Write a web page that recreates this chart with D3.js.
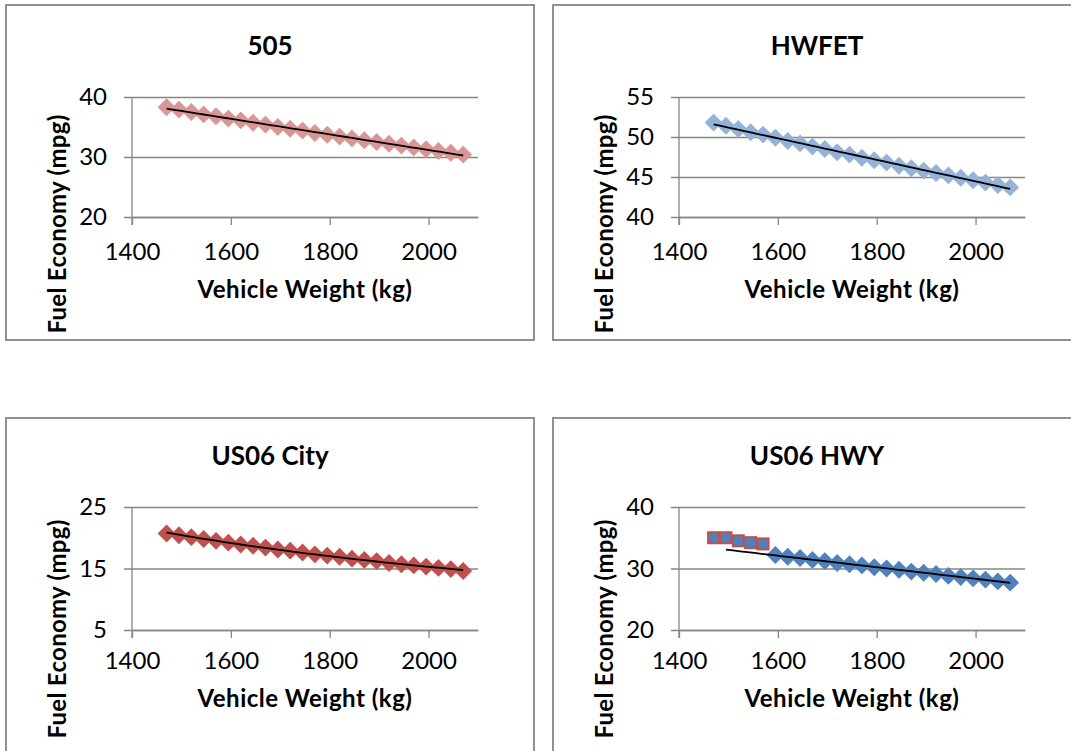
<!DOCTYPE html>
<html>
<head>
<meta charset="utf-8">
<script src="https://cdn.jsdelivr.net/npm/d3@7"></script>
<style>
  body { margin: 0; background: #fff; }
  svg { display: block; font-family: Lato, "Open Sans", sans-serif; }
</style>
</head>
<body>
<div id="vis"></div>
<script>
const FRAME_WIDTH = 1071;
const FRAME_HEIGHT = 751;

// vehicle weights (kg) used by every panel
const WEIGHTS = [1470, 1495, 1520, 1545, 1570, 1595, 1620, 1645, 1670, 1695,
                 1720, 1745, 1770, 1795, 1820, 1845, 1870, 1895, 1920, 1945,
                 1970, 1995, 2020, 2045, 2070];

// fuel economy (mpg)
const FE_505 = [38.3, 37.9, 37.5, 37.1, 36.8, 36.4, 36.1, 35.7, 35.4, 35.0,
                34.7, 34.4, 34.0, 33.7, 33.4, 33.1, 32.8, 32.5, 32.2, 31.9,
                31.6, 31.3, 31.0, 30.7, 30.4];
const FE_HWFET = [51.8, 51.4, 51.0, 50.6, 50.3, 49.9, 49.5, 49.2, 48.8, 48.5,
                  48.1, 47.8, 47.4, 47.1, 46.8, 46.4, 46.1, 45.8, 45.5, 45.2,
                  44.9, 44.6, 44.3, 44.0, 43.7];
const FE_US06_CITY = [20.7, 20.4, 20.1, 19.8, 19.5, 19.2, 18.9, 18.7, 18.4, 18.1,
                      17.9, 17.6, 17.3, 17.1, 16.9, 16.6, 16.4, 16.2, 15.9, 15.7,
                      15.5, 15.3, 15.1, 14.9, 14.6];
// US06 HWY: first five points are a separate (square) series
const FE_US06_HWY_LIGHT = [35.0, 35.0, 34.5, 34.2, 34.0];
const FE_US06_HWY = [32.2, 31.9, 31.7, 31.4, 31.2, 30.9, 30.7, 30.5, 30.2, 30.0,
                     29.8, 29.5, 29.3, 29.1, 28.8, 28.6, 28.4, 28.2, 27.9, 27.7];

const X_TICKS = [1400, 1600, 1800, 2000];
const X_DOMAIN = [1400, 2100];

const PANELS = [
  {title: "505", col: 0, row: 0, yDomain: [20, 40], yTicks: [20, 30, 40],
   series: [{x: WEIGHTS, y: FE_505, shape: "diamond", fill: "#D99694"}],
   trend: "linear"},
  {title: "HWFET", col: 1, row: 0, yDomain: [40, 55], yTicks: [40, 45, 50, 55],
   series: [{x: WEIGHTS, y: FE_HWFET, shape: "diamond", fill: "#95B3D7"}],
   trend: "linear"},
  {title: "US06 City", col: 0, row: 1, yDomain: [5, 25], yTicks: [5, 15, 25],
   series: [{x: WEIGHTS, y: FE_US06_CITY, shape: "diamond", fill: "#C0504D"}],
   trend: "power"},
  {title: "US06 HWY", col: 1, row: 1, yDomain: [20, 40], yTicks: [20, 30, 40],
   series: [{x: WEIGHTS.slice(0, 5), y: FE_US06_HWY_LIGHT, shape: "square", fill: "#4F81BD", stroke: "#C0504D"},
            {x: WEIGHTS.slice(5), y: FE_US06_HWY, shape: "diamond", fill: "#4F81BD"}],
   trend: "linear", trendSeries: 1, trendFrom: WEIGHTS[1]}
];

// box geometry
const BOX = {w: 528, h: 335};
const COL_X = [6, 553];
const ROWS = [
  {top: 5, plotTop: 92, plotBottom: 212, titleY: 50, yTitleY: 219, tickY: 255},
  {top: 418, plotTop: 89, plotBottom: 212, titleY: 47, yTitleY: 211, tickY: 251}
];
const PLOT_LEFT = 126;
const PLOT_RIGHT = 472;
const GRID = "#868686";

const diamond = {
  draw(ctx, size) {
    const r = Math.sqrt(size / 2);
    ctx.moveTo(0, -r); ctx.lineTo(r, 0); ctx.lineTo(0, r); ctx.lineTo(-r, 0); ctx.closePath();
  }
};

const svg = d3.select("#vis").append("svg")
    .attr("width", FRAME_WIDTH)
    .attr("height", FRAME_HEIGHT);

PANELS.forEach((p) => {
  const row = ROWS[p.row];
  const g = svg.append("g")
      .attr("transform", "translate(" + COL_X[p.col] + "," + row.top + ")");

  g.append("rect")
      .attr("x", 0).attr("y", 0)
      .attr("width", BOX.w).attr("height", BOX.h)
      .attr("fill", "#fff")
      .attr("stroke", "#858585")
      .attr("stroke-width", 1.8);

  const X_SCALE = d3.scaleLinear().domain(X_DOMAIN).range([PLOT_LEFT, PLOT_RIGHT]);
  const Y_SCALE = d3.scaleLinear().domain(p.yDomain).range([row.plotBottom, row.plotTop]);

  // horizontal gridlines + left ticks
  const yAxis = g.append("g")
      .attr("transform", "translate(" + PLOT_LEFT + ",0)")
      .call(d3.axisLeft(Y_SCALE).tickValues(p.yTicks)
              .tickSize(-(PLOT_RIGHT - PLOT_LEFT)).tickPadding(0).tickFormat(d3.format("d")));
  yAxis.select(".domain").remove();
  yAxis.selectAll(".tick line")
      .attr("x1", -8)
      .attr("stroke", GRID).attr("stroke-width", 1.3);
  yAxis.selectAll(".tick text")
      .attr("x", -25)
      .attr("font-size", 24)
      .attr("fill", "#000")
      .attr("font-family", "Lato");

  // vertical axis line
  g.append("line")
      .attr("x1", PLOT_LEFT).attr("x2", PLOT_LEFT)
      .attr("y1", row.plotTop).attr("y2", row.plotBottom + 8)
      .attr("stroke", GRID).attr("stroke-width", 1.3);

  // x axis
  const xAxis = g.append("g")
      .attr("transform", "translate(0," + row.plotBottom + ")")
      .call(d3.axisBottom(X_SCALE).tickValues(X_TICKS).tickSize(8).tickSizeOuter(0)
              .tickFormat(d3.format("d")));
  xAxis.select(".domain").attr("stroke", GRID).attr("stroke-width", 1.3);
  xAxis.selectAll(".tick line").attr("stroke", GRID).attr("stroke-width", 1.3);
  xAxis.selectAll(".tick text")
      .attr("y", row.tickY - row.plotBottom)
      .attr("dy", 0)
      .attr("font-size", 24)
      .attr("fill", "#000")
      .attr("font-family", "Lato");

  // points
  p.series.forEach((s) => {
    const pts = s.x.map((x, i) => [x, s.y[i]]);
    if (s.shape === "diamond") {
      g.append("g").selectAll("path")
          .data(pts)
          .enter()
          .append("path")
            .attr("transform", (d) => "translate(" + X_SCALE(d[0]) + "," + Y_SCALE(d[1]) + ")")
            .attr("d", d3.symbol().type(diamond).size(160))
            .attr("fill", s.fill);
    } else {
      g.append("g").selectAll("rect")
          .data(pts)
          .enter()
          .append("rect")
            .attr("x", (d) => X_SCALE(d[0]) - 5.5)
            .attr("y", (d) => Y_SCALE(d[1]) - 5.5)
            .attr("width", 11).attr("height", 11)
            .attr("fill", s.fill)
            .attr("stroke", s.stroke)
            .attr("stroke-width", 2);
    }
  });

  // trendline (least squares; power fit done in log-log space)
  const ts = p.series[p.trendSeries || 0];
  const xs = ts.x, ys = ts.y;
  const fx = p.trend === "power" ? xs.map(Math.log) : xs;
  const fy = p.trend === "power" ? ys.map(Math.log) : ys;
  const mx = d3.mean(fx), my = d3.mean(fy);
  const slope = d3.sum(fx, (v, i) => (v - mx) * (fy[i] - my)) / d3.sum(fx, (v) => (v - mx) * (v - mx));
  const icpt = my - slope * mx;
  const predict = (x) => p.trend === "power" ? Math.exp(icpt + slope * Math.log(x)) : icpt + slope * x;
  const x0 = p.trendFrom || xs[0];
  const x1 = xs[xs.length - 1];
  const trendPts = d3.range(0, 41).map((k) => x0 + (x1 - x0) * k / 40);
  g.append("path")
      .datum(trendPts)
      .attr("fill", "none")
      .attr("stroke", "#000")
      .attr("stroke-width", 1.8)
      .attr("d", d3.line().x((d) => X_SCALE(d)).y((d) => Y_SCALE(predict(d))));

  // titles
  g.append("text")
      .attr("x", BOX.w / 2).attr("y", row.titleY)
      .attr("text-anchor", "middle")
      .attr("font-size", 26).attr("font-weight", "bold")
      .text(p.title);
  g.append("text")
      .attr("x", (PLOT_LEFT + PLOT_RIGHT) / 2).attr("y", row.tickY + 38)
      .attr("text-anchor", "middle")
      .attr("font-size", 24).attr("font-weight", "bold")
      .attr("letter-spacing", 0.5)
      .text("Vehicle Weight (kg)");
  g.append("text")
      .attr("transform", "translate(60," + row.yTitleY + ") rotate(-90)")
      .attr("text-anchor", "middle")
      .attr("font-size", 24).attr("font-weight", "bold")
      .attr("letter-spacing", 0.3)
      .text("Fuel Economy (mpg)");
});
</script>
</body>
</html>
